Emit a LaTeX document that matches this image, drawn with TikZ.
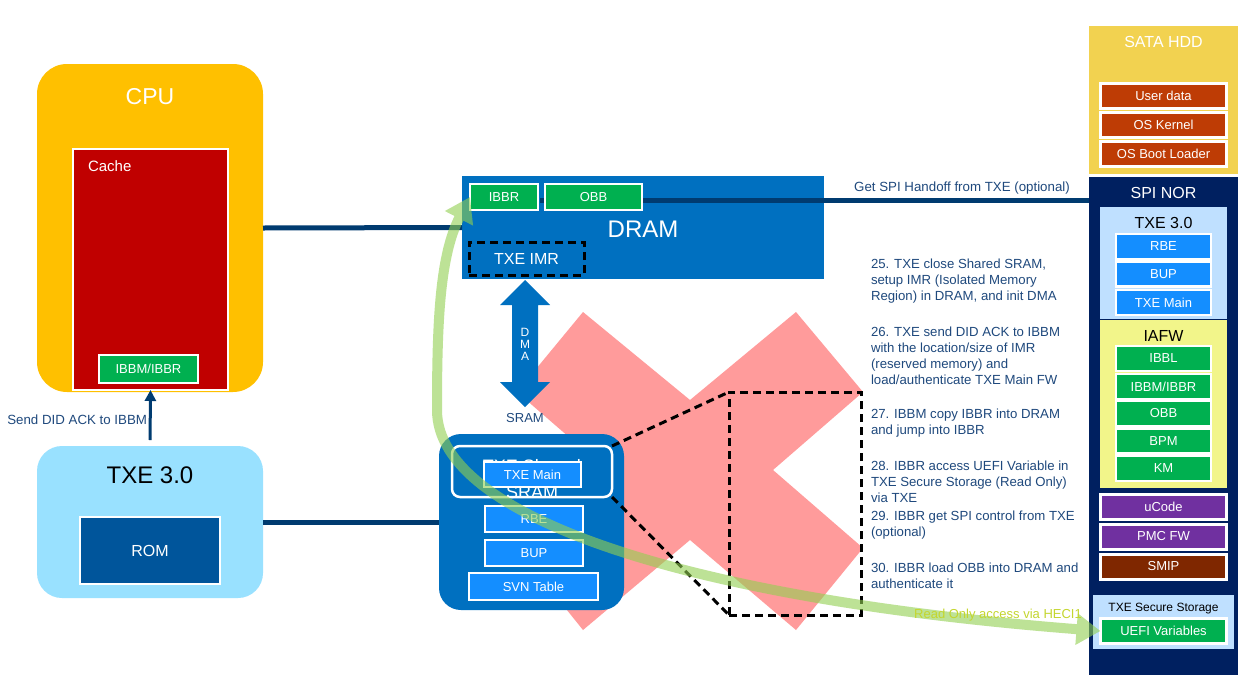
\documentclass[tikz,border=0pt]{standalone}
\usepackage{fontspec}
\setmainfont{Liberation Sans}
\usetikzlibrary{arrows.meta}

\definecolor{cpuY}{HTML}{FFC000}
\definecolor{cacheR}{HTML}{C00000}
\definecolor{grn}{HTML}{00B050}
\definecolor{txeL}{HTML}{99E1FF}
\definecolor{romB}{HTML}{00559B}
\definecolor{blu}{HTML}{0070C0}
\definecolor{lblu}{HTML}{148EFF}
\definecolor{sataY}{HTML}{F2D250}
\definecolor{hddR}{HTML}{BE3C05}
\definecolor{navy}{HTML}{002060}
\definecolor{pale}{HTML}{BFE0FF}
\definecolor{iafwY}{HTML}{F2F58A}
\definecolor{purp}{HTML}{7030A0}
\definecolor{smipC}{HTML}{7F2700}
\definecolor{txtB}{HTML}{1F497D}
\definecolor{lineB}{HTML}{003B70}
\definecolor{xpink}{HTML}{FF9B9B}
\definecolor{garrow}{HTML}{92D050}
\definecolor{heci}{HTML}{C4D62E}

\newcommand\fsz[1]{\fontsize{#1}{#1}\selectfont}

\begin{document}
\begin{tikzpicture}[x=1pt,y=-1pt,
  every node/.style={inner sep=0pt, outer sep=0pt},
  wbox/.style={draw=white, line width=2.5pt, text=white, font=\fsz{13}},
  item/.style={wbox, minimum width=95, minimum height=25},
  hitem/.style={wbox, line width=3pt, minimum width=126, minimum height=25},
  lbl/.style={text=white},
  conn/.style={draw=lineB, line width=5pt},
  dashbox/.style={draw=black, line width=3pt, dash pattern=on 8pt off 5pt},
  steptext/.style={font=\fontsize{13.2}{16}\selectfont, text=txtB, align=left, anchor=west}
]
\useasboundingbox (0,0) rectangle (1248,683);
\fill[white] (0,0) rectangle (1248,683);

% red X
\fill[xpink] (583,312) -- (690,400) -- (796,312) -- (863,392) -- (773,470) -- (863,548)
  -- (796,630) -- (690,540) -- (583,630) -- (517,548) -- (607,470) -- (517,392) -- cycle;

% CPU
\node[fill=cpuY, rounded corners=30pt, minimum width=226, minimum height=328] (cpu) at (150,228) {};
\node[lbl, font=\fsz{23}] (cpulbl) at (150,97) {CPU};
\node[wbox, fill=cacheR, minimum width=155, minimum height=241] (cache) at (150.5,269.5) {};
\node[lbl, font=\fsz{15}, anchor=west] (cachelbl) at (88,166) {Cache};
\node[wbox, fill=grn, minimum width=99, minimum height=28] (ibbmc) at (148.5,369) {IBBM/IBBR};

% TXE left
\node[fill=txeL, rounded corners=25pt, minimum width=226, minimum height=152] (txe) at (150,522) {};
\node[font=\fsz{24}, text=black] (txelbl) at (150,475) {TXE 3.0};
\node[wbox, fill=romB, font=\fsz{16}, minimum width=140, minimum height=67] (rom) at (150,550.5) {ROM};

% DRAM
\node[fill=blu, minimum width=362, minimum height=103] (dram) at (643,227.5) {};
\node[lbl, font=\fsz{24}] (dramlbl) at (643,229) {DRAM};

% SRAM box
\node[fill=blu, rounded corners=22pt, minimum width=185, minimum height=176] (sram) at (531.5,522) {};

% connectors
\draw[conn] (cpu.east) -- (dram.west);
\draw[conn] (txe.east) -- (sram.west);
\draw[draw=lineB, line width=3pt, -{Triangle[length=11pt,width=11pt]}, shorten <=6pt] (txe.north) -- (cache.south);
\node[font=\fsz{13.3}, text=txtB, anchor=east] (didlbl) at (147,420) {Send DID ACK to IBBM};

\node[wbox, fill=grn, minimum width=68, minimum height=26] (ibbr) at (504,197) {IBBR};
\coordinate (gstart) at (540,200.5);
\node[draw=none, minimum width=1, minimum height=1] (spinorpt) at (1089,200.5) {};
\draw[conn] (gstart) -- (spinorpt.center);
\node[wbox, fill=grn, minimum width=97, minimum height=26] (obb) at (593.5,197) {OBB};
\node[dashbox, text=white, font=\fsz{16}, minimum width=115, minimum height=33] (imr) at (526.5,258.5) {TXE IMR};
\node[font=\fsz{13.3}, text=txtB] (getspi) at (962,188) {Get SPI Handoff from TXE (optional)};

% DMA arrow
\fill[blu] (525,280) -- (550,305) -- (538,305) -- (538,382) -- (550,382) -- (525,407)
  -- (500,382) -- (512,382) -- (512,305) -- (500,305) -- cycle;
\node[lbl, font=\fsz{12}, align=center] (dmalbl) at (525,344) {\fontsize{12}{14.5}\selectfont D\\M\\A};
\node[font=\fsz{13}, text=txtB] (sramlbl) at (525,418) {SRAM};

% SRAM contents
\node[lbl, font=\fontsize{18}{26}\selectfont, align=center, anchor=base] (sharedlbl) at (532,498) {TXE Shared\\SRAM};
\node[draw=white, line width=2.5pt, rounded corners=8pt, minimum width=160, minimum height=51] (shared) at (532,471.5) {};
\node[item, fill=lblu, minimum width=97] (txemain) at (532.5,474.5) {TXE Main};
\node[item, fill=lblu, minimum width=98, minimum height=26] (rbe) at (534,519) {RBE};
\node[item, fill=lblu, minimum width=98, minimum height=26] (bup) at (534,553) {BUP};
\node[item, fill=lblu, minimum width=129, minimum height=27] (svn) at (533.5,586.5) {SVN Table};

% right column: SATA HDD
\node[fill=sataY, minimum width=149, minimum height=148] (sata) at (1163.5,99.5) {};
\node[lbl, font=\fsz{16}] (satalbl) at (1163.5,42) {SATA HDD};
\node[hitem, fill=hddR] (udata) at (1163.5,96) {User data};
\node[hitem, fill=hddR] (oskern) at (1163.5,125) {OS Kernel};
\node[hitem, fill=hddR] (osboot) at (1163.5,153.5) {OS Boot Loader};

% SPI NOR
\node[fill=navy, minimum width=149, minimum height=498] (spinor) at (1163.5,426) {};
\node[lbl, font=\fsz{16}] (spinorlbl) at (1163.5,193) {SPI NOR};
\node[fill=pale, minimum width=127, minimum height=112] (txer) at (1163.5,263) {};
\node[font=\fsz{16}, text=black] (txerlbl) at (1163.5,223) {TXE 3.0};
\node[item, fill=lblu] (rbe2) at (1163.5,246.5) {RBE};
\node[item, fill=lblu] (bup2) at (1163.5,274) {BUP};
\node[item, fill=lblu] (txemain2) at (1163.5,302.5) {TXE Main};

\node[fill=iafwY, minimum width=127, minimum height=168] (iafw) at (1163.5,404) {};
\node[font=\fsz{16}, text=black] (iafwlbl) at (1163.5,336) {IAFW};
\node[item, fill=grn] (ibbl) at (1163.5,358.5) {IBBL};
\node[item, fill=grn] (ibbm2) at (1163.5,386.5) {IBBM/IBBR};
\node[item, fill=grn] (obb2) at (1163.5,413.5) {OBB};
\node[item, fill=grn] (bpm) at (1163.5,441) {BPM};
\node[item, fill=grn] (km) at (1163.5,468.5) {KM};

\node[hitem, fill=purp] (ucode) at (1163.5,507) {uCode};
\node[hitem, fill=purp] (pmc) at (1163.5,536.5) {PMC FW};
\node[hitem, fill=smipC] (smip) at (1163.5,566.5) {SMIP};

\node[fill=pale, minimum width=141, minimum height=54] (secst) at (1163.5,622) {};
\node[font=\fsz{12}, text=black] (secstlbl) at (1163.5,609) {TXE Secure Storage};
\node[hitem, fill=grn] (uefi) at (1163.5,631) {UEFI Variables};

% dashed zoom
\node[dashbox, minimum width=132, minimum height=223] (zoomrect) at (795,503.5) {};
\draw[dashbox] (shared.north east) -- (zoomrect.north west);
\draw[dashbox] (shared.south east) -- (zoomrect.south west);

% green arrow
\begin{scope}[transparency group, opacity=0.6]
\draw[draw=garrow, line width=10pt,
  {Triangle[length=24pt,width=30pt]}-{Triangle[length=24pt,width=30pt]}]
  (uefi.west) .. controls (700,600) and (437,520) .. (437,410)
  .. controls (437,320) and (440,255) .. (ibbr.west);
\end{scope}

% step texts
\node[steptext] (s25) at (871,281) {25. TXE close Shared SRAM,\\setup IMR (Isolated Memory\\Region) in DRAM, and init DMA};
\node[steptext] (s26) at (871,356) {26. TXE send DID ACK to IBBM\\with the location/size of IMR\\(reserved memory) and\\load/authenticate TXE Main FW};
\node[steptext] (s27) at (871,423) {27. IBBM copy IBBR into DRAM\\and jump into IBBR};
\node[steptext] (s28) at (871,482) {28. IBBR access UEFI Variable in\\TXE Secure Storage (Read Only)\\via TXE};
\node[steptext] (s29) at (871,525) {29. IBBR get SPI control from TXE\\(optional)};
\node[steptext] (s30) at (871,576) {30. IBBR load OBB into DRAM and\\authenticate it};
\node[font=\fsz{13}, text=heci] (hecilbl) at (998,615) {Read Only access via HECI1};
\end{tikzpicture}
\end{document}
